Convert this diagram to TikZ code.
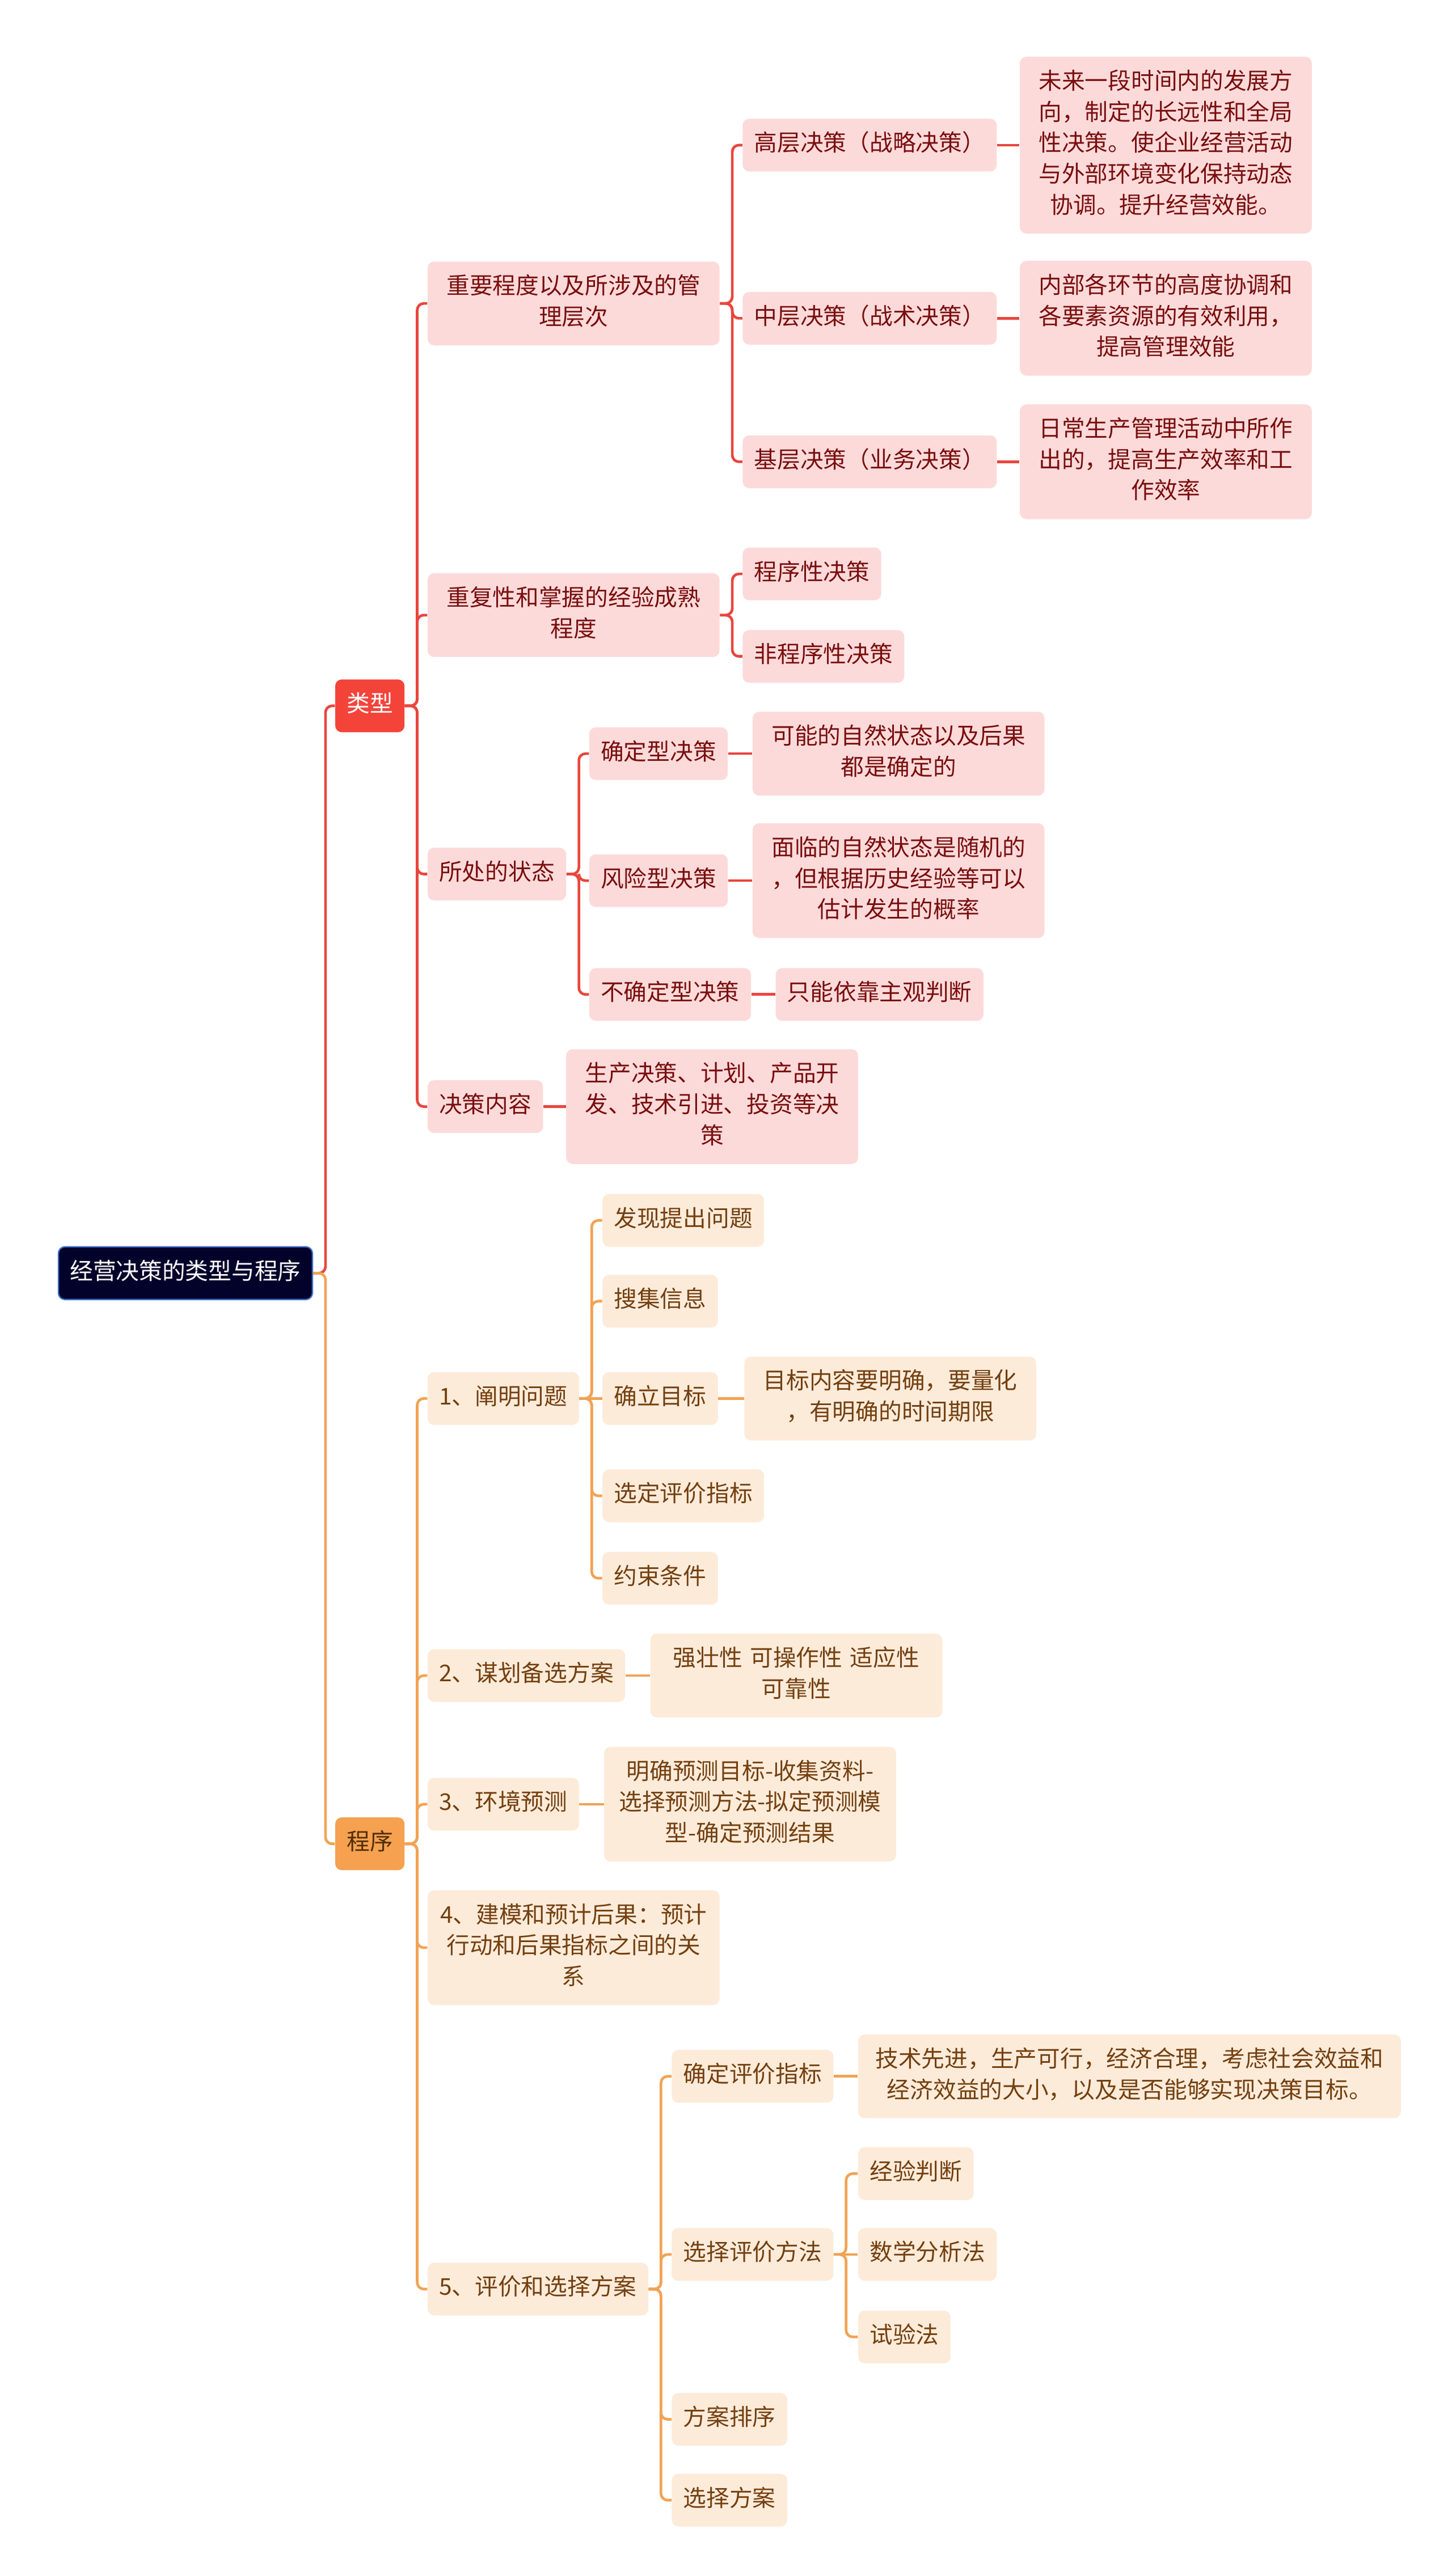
\documentclass[tikz,border=0pt]{standalone}
\usepackage{fontspec}
\setmainfont{Noto Sans CJK SC}

\definecolor{rootfill}{HTML}{03022A}
\definecolor{rootline}{HTML}{3F6FC6}
\definecolor{redmain}{HTML}{F4443A}
\definecolor{redline}{HTML}{E8463E}
\definecolor{redsoft}{HTML}{FDDADA}
\definecolor{redtext}{HTML}{7A0E0E}
\definecolor{orgmain}{HTML}{F5A14F}
\definecolor{orgline}{HTML}{F1A354}
\definecolor{orgsoft}{HTML}{FDEBDA}
\definecolor{orgtext}{HTML}{74400F}

\newcommand\mapfont{\fontsize{14pt}{18.8pt}\selectfont}

\tikzset{
  box/.style={rounded corners=4pt, inner xsep=7pt, inner ysep=6.6pt, anchor=west,
    font=\mapfont, execute at begin node=\strut, execute at end node=\strut},
  wide/.style={text width=163pt, align=center},
  rootbox/.style={box, fill=rootfill, draw=rootline, line width=0.8pt, text=white},
  redtop/.style={box, fill=redmain, text=white},
  redbox/.style={box, fill=redsoft, text=redtext},
  orgtop/.style={box, fill=orgmain, text=orgtext!70!black},
  orgbox/.style={box, fill=orgsoft, text=orgtext},
  fork/.style={to path={(\tikztostart.east) -- ++(7.5,0) |- (\tikztotarget.west)}},
  flat/.style={to path={(\tikztostart.east) -- (\tikztotarget.west)}},
}

\begin{document}
\begin{tikzpicture}[x=1pt,y=-1pt]

  \useasboundingbox (0,0) rectangle (880,1562);

  % root and main branches
  \node[rootbox] (root)   at (35,772)  {经营决策的类型与程序};
  \node[redtop]  (leixing) at (203,428) {类型};
  \node[orgtop]  (chengxu) at (203,1118) {程序};

  % 类型
  \begin{scope}[every node/.style={redbox}]
    \node[wide] (guanli)  at (259,184) {重要程度以及所涉及的管\\理层次};
    \node[wide] (jingyan) at (259,373) {重复性和掌握的经验成熟\\程度};
    \node       (zhuangtai) at (259,530) {所处的状态};
    \node       (neirong) at (259,671) {决策内容};

    \node (gaoceng)  at (450,88)  {高层决策（战略决策）};
    \node (zhongceng) at (450,193) {中层决策（战术决策）};
    \node (jiceng)   at (450,280) {基层决策（业务决策）};
    \node[wide] (gaodesc) at (618,88) {未来一段时间内的发展方\\向，制定的长远性和全局\\性决策。使企业经营活动\\与外部环境变化保持动态\\协调。提升经营效能。};
    \node[wide] (zhongdesc) at (618,193) {内部各环节的高度协调和\\各要素资源的有效利用，\\提高管理效能};
    \node[wide] (jidesc) at (618,280) {日常生产管理活动中所作\\出的，提高生产效率和工\\作效率};

    \node (chengxuxing) at (450,348) {程序性决策};
    \node (feichengxu)  at (450,398) {非程序性决策};

    \node (queding)  at (357,457) {确定型决策};
    \node (fengxian) at (357,534) {风险型决策};
    \node (buqueding) at (357,603) {不确定型决策};
    \node[wide] (quedingdesc) at (456,457) {可能的自然状态以及后果\\都是确定的};
    \node[wide] (fengxiandesc) at (456,534) {面临的自然状态是随机的\\，但根据历史经验等可以\\估计发生的概率};
    \node (buquedingdesc) at (470,603) {只能依靠主观判断};

    \node[wide] (neirongdesc) at (343,671) {生产决策、计划、产品开\\发、技术引进、投资等决\\策};
  \end{scope}

  % 程序
  \begin{scope}[every node/.style={orgbox}]
    \node (step1) at (259,848)  {1、阐明问题};
    \node (step2) at (259,1016) {2、谋划备选方案};
    \node (step3) at (259,1094) {3、环境预测};
    \node[wide] (step4) at (259,1181) {4、建模和预计后果：预计\\行动和后果指标之间的关\\系};
    \node (step5) at (259,1388) {5、评价和选择方案};

    \node (faxian)  at (365,740) {发现提出问题};
    \node (soují)   at (365,789) {搜集信息};
    \node (mubiao)  at (365,848) {确立目标};
    \node (zhibiao) at (365,907) {选定评价指标};
    \node (yueshu)  at (365,957) {约束条件};
    \node[wide] (mubiaodesc) at (451,848) {目标内容要明确，要量化\\，有明确的时间期限};

    \node[wide] (beixuan) at (394,1016) {强壮性 可操作性 适应性\\可靠性};
    \node[wide] (yuce) at (366,1094) {明确预测目标-收集资料-\\选择预测方法-拟定预测模\\型-确定预测结果};

    \node (pingjia)  at (407,1259) {确定评价指标};
    \node (fangfa)   at (407,1367) {选择评价方法};
    \node (paixu)    at (407,1467) {方案排序};
    \node (xuanze)   at (407,1516) {选择方案};
    \node[text width=315pt, align=center] (pingjiadesc) at (520,1259) {技术先进，生产可行，经济合理，考虑社会效益和\\经济效益的大小，以及是否能够实现决策目标。};
    \node (panduan)  at (520,1318) {经验判断};
    \node (shuxue)   at (520,1367) {数学分析法};
    \node (shiyan)   at (520,1417) {试验法};
  \end{scope}

  \begin{scope}[every edge/.style={draw=redline, line width=1.6pt, rounded corners=4pt}]
    \path (root) edge[fork] (leixing);
    \path (leixing) edge[fork] (guanli) edge[fork] (jingyan)
                    edge[fork] (zhuangtai) edge[fork] (neirong);
    \path (guanli) edge[fork] (gaoceng) edge[fork] (zhongceng) edge[fork] (jiceng);
    \path (gaoceng) edge[flat] (gaodesc);
    \path (zhongceng) edge[flat] (zhongdesc);
    \path (jiceng) edge[flat] (jidesc);
    \path (jingyan) edge[fork] (chengxuxing) edge[fork] (feichengxu);
    \path (zhuangtai) edge[fork] (queding) edge[fork] (fengxian) edge[fork] (buqueding);
    \path (queding) edge[flat] (quedingdesc);
    \path (fengxian) edge[flat] (fengxiandesc);
    \path (buqueding) edge[flat] (buquedingdesc);
    \path (neirong) edge[flat] (neirongdesc);
  \end{scope}

  \begin{scope}[every edge/.style={draw=orgline, line width=1.6pt, rounded corners=4pt}]
    \path (root) edge[fork] (chengxu);
    \path (chengxu) edge[fork] (step1) edge[fork] (step2) edge[fork] (step3)
                    edge[fork] (step4) edge[fork] (step5);
    \path (step1) edge[fork] (faxian) edge[fork] (soují) edge[flat] (mubiao)
                  edge[fork] (zhibiao) edge[fork] (yueshu);
    \path (mubiao) edge[flat] (mubiaodesc);
    \path (step2) edge[flat] (beixuan);
    \path (step3) edge[flat] (yuce);
    \path (step5) edge[fork] (pingjia) edge[fork] (fangfa) edge[fork] (paixu) edge[fork] (xuanze);
    \path (pingjia) edge[flat] (pingjiadesc);
    \path (fangfa) edge[fork] (panduan) edge[flat] (shuxue) edge[fork] (shiyan);
  \end{scope}

\end{tikzpicture}
\end{document}
